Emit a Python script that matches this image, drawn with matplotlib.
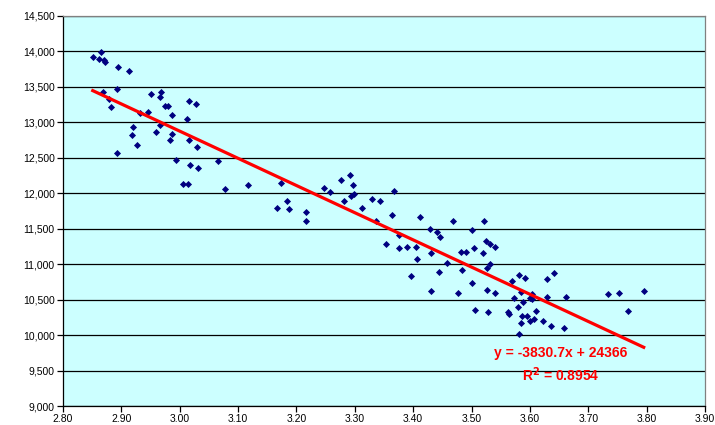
import numpy as np
import matplotlib
matplotlib.use('Agg')
import matplotlib.pyplot as plt
from matplotlib.ticker import FuncFormatter, MultipleLocator

plt.rcParams['font.family'] = ['Liberation Sans', 'DejaVu Sans']

# observations (x, y)
x_vals = [2.851, 2.865, 2.862, 2.871, 2.872, 2.895, 2.913, 2.868, 2.892, 2.878,
          2.882, 2.932, 2.946, 2.951, 2.968, 2.966, 2.975, 2.980, 2.987, 3.016,
          3.028, 3.012, 2.920, 2.918, 2.927, 2.892, 2.966, 2.959, 2.987, 2.984,
          3.016, 3.029, 2.993, 3.017, 3.031, 3.065, 3.005, 3.015, 3.077, 3.117,
          3.173, 3.183, 3.166, 3.188, 3.216, 3.217, 3.248, 3.257, 3.277, 3.292,
          3.297, 3.294, 3.299, 3.281, 3.313, 3.330, 3.343, 3.367, 3.364, 3.336,
          3.411, 3.354, 3.376, 3.375, 3.390, 3.404, 3.407, 3.396, 3.428, 3.440,
          3.446, 3.431, 3.458, 3.444, 3.430, 3.469, 3.500, 3.521, 3.525, 3.532,
          3.541, 3.504, 3.482, 3.491, 3.519, 3.531, 3.526, 3.483, 3.501, 3.476,
          3.526, 3.541, 3.506, 3.528, 3.569, 3.582, 3.592, 3.584, 3.573, 3.604,
          3.601, 3.603, 3.589, 3.610, 3.579, 3.563, 3.564, 3.587, 3.595, 3.607,
          3.601, 3.585, 3.582, 3.623, 3.636, 3.630, 3.641, 3.630, 3.662, 3.658,
          3.734, 3.753, 3.795, 3.768]
y_vals = [13924, 13986, 13892, 13878, 13854, 13779, 13719, 13424, 13461, 13326,
          13218, 13133, 13147, 13404, 13424, 13348, 13228, 13228, 13105, 13298,
          13250, 13039, 12927, 12815, 12684, 12562, 12955, 12857, 12838, 12750,
          12750, 12652, 12469, 12403, 12361, 12459, 12136, 12136, 12052, 12118,
          12146, 11883, 11795, 11771, 11729, 11603, 12070, 12014, 12183, 12253,
          12118, 11958, 11982, 11883, 11795, 11921, 11883, 12028, 11687, 11603,
          11659, 11284, 11406, 11223, 11241, 11241, 11069, 10830, 11500, 11448,
          11388, 11163, 11017, 10886, 10619, 11612, 11486, 11612, 11331, 11279,
          11247, 11223, 11171, 11171, 11153, 10999, 10952, 10924, 10736, 10595,
          10629, 10591, 10353, 10320, 10764, 10844, 10798, 10601, 10525, 10577,
          10525, 10507, 10465, 10343, 10395, 10320, 10300, 10268, 10268, 10226,
          10202, 10166, 10011, 10202, 10124, 10784, 10872, 10531, 10539, 10096,
          10577, 10595, 10624, 10343]

# linear trendline
slope = -3830.7
intercept = 24366
r_squared = 0.8954

fig = plt.figure(figsize=(7.15, 4.25), dpi=100)
ax = fig.add_axes([0.0881, 0.0445, 0.8979, 0.9185])
ax.set_facecolor('#CCFFFF')

ax.scatter(x_vals, y_vals, marker='D', s=13, color='#000080', zorder=3, linewidths=0)

xs = np.array([min(x_vals), max(x_vals)])
ax.plot(xs, slope * xs + intercept, color='#FF0000', linewidth=2.3, zorder=4)

ax.set_xlim(2.80, 3.90)
ax.set_ylim(9000, 14500)
ax.xaxis.set_major_locator(MultipleLocator(0.1))
ax.yaxis.set_major_locator(MultipleLocator(500))
ax.xaxis.set_major_formatter(FuncFormatter(lambda v, p: '{:.2f}'.format(v)))
ax.yaxis.set_major_formatter(FuncFormatter(lambda v, p: '{:,.0f}'.format(v)))
ax.grid(axis='y', color='black', linewidth=0.9, zorder=1)
ax.set_axisbelow(True)

ax.tick_params(axis='both', labelsize=7.5, length=4, width=0.9, direction='out', color='black')
ax.tick_params(axis='x', pad=2)
ax.tick_params(axis='y', pad=2)
for side in ['left', 'bottom']:
    ax.spines[side].set_color('black')
    ax.spines[side].set_linewidth(0.9)
for side in ['top', 'right']:
    ax.spines[side].set_color('#808080')
    ax.spines[side].set_linewidth(0.9)

# trendline equation and R squared
ax.text(3.652, 9745, 'y = %.1fx + %d' % (slope, intercept), color='#FF0000', fontsize=10,
        fontweight='bold', ha='center', va='center', zorder=5)
ax.text(3.652, 9440, 'R$^{\\mathbf{2}}$ = %.4f' % r_squared, color='#FF0000', fontsize=10,
        fontweight='bold', ha='center', va='center', zorder=5)

fig.savefig('out.png', dpi=100)
